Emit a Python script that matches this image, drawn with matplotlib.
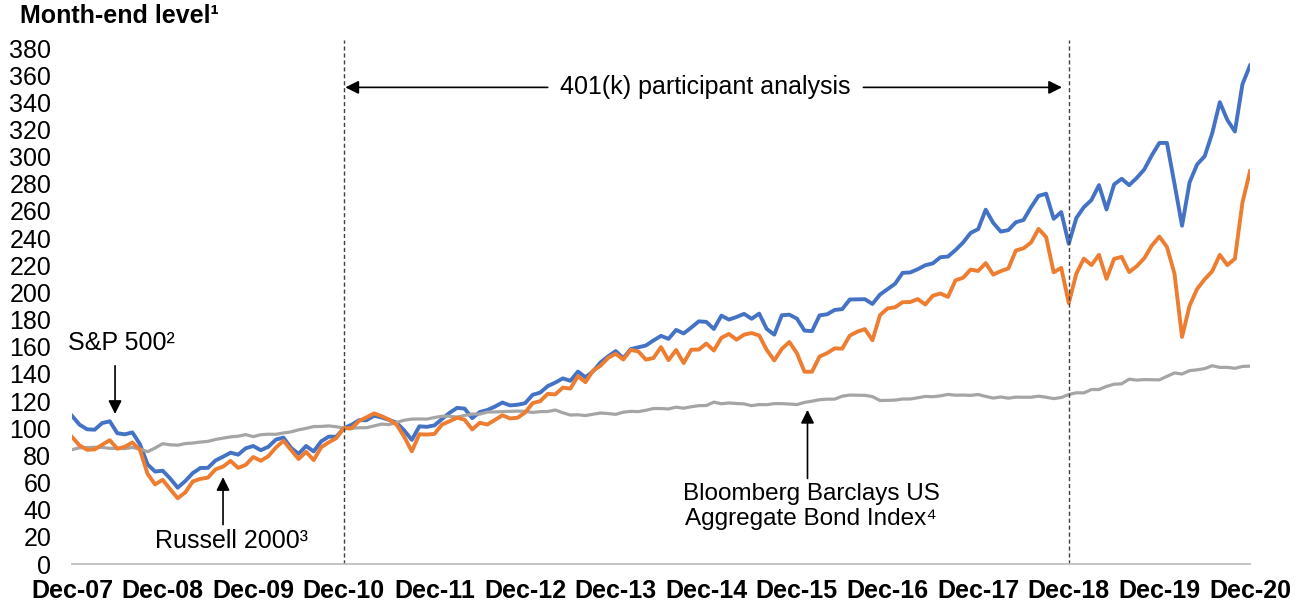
import numpy as np
import matplotlib
matplotlib.use("Agg")
import matplotlib.pyplot as plt

plt.rcParams['font.family'] = ['Liberation Sans', 'DejaVu Sans']

# month-end levels, Dec-07 .. Dec-20 (Dec-10 = 100)
sp500 = [109.1,
         102.6, 99.2, 98.9, 103.8, 105.1, 96.3, 95.5, 96.9, 88.2, 73.4, 68.1, 68.7,
         63.0, 56.2, 61.1, 67.0, 70.7, 70.8, 76.2, 79.0, 82.0, 80.5, 85.2, 86.9,
         83.8, 86.3, 91.6, 93.1, 85.6, 81.1, 86.9, 82.9, 90.3, 93.8, 93.7, 100.0,
         102.5, 105.9, 105.9, 109.2, 107.9, 106.1, 104.0, 98.3, 91.4, 101.4, 101.0, 102.1,
         106.8, 111.3, 115.0, 114.4, 107.4, 111.9, 113.4, 115.9, 118.9, 116.8, 117.3, 118.4,
         124.6, 126.2, 131.0, 133.6, 136.7, 134.9, 141.7, 137.5, 141.9, 148.5, 152.9, 156.8,
         151.5, 158.3, 159.6, 160.9, 164.6, 168.0, 165.8, 172.4, 169.8, 174.1, 178.7, 178.3,
         173.1, 182.9, 180.0, 181.9, 184.2, 180.6, 184.4, 173.1, 168.9, 183.2, 183.6, 180.7,
         171.9, 171.5, 183.1, 183.9, 187.1, 187.7, 194.8, 194.9, 195.0, 191.5, 198.4, 202.4,
         206.4, 214.4, 214.7, 217.1, 220.0, 221.4, 225.9, 226.4, 231.2, 236.7, 243.8, 246.6,
         260.9, 251.2, 244.8, 245.9, 251.7, 253.3, 262.7, 271.1, 272.7, 254.2, 259.2, 235.8,
         254.8, 262.8, 268.0, 279.0, 261.1, 279.5, 283.7, 279.0, 284.3, 290.6, 301.0, 310.1,
         310.1, 280.0, 249.1, 281.1, 294.3, 300.3, 317.3, 340.1, 327.0, 318.5, 353.3, 367.1]

russell = [93.6,
           87.3, 84.1, 84.4, 87.8, 91.2, 84.9, 86.3, 89.5, 84.0, 66.5, 58.6, 62.0,
           55.1, 48.4, 52.7, 60.8, 62.7, 63.6, 69.7, 71.7, 75.9, 70.8, 73.0, 78.8,
           76.0, 79.4, 85.8, 90.7, 84.0, 77.3, 82.6, 76.5, 86.0, 89.6, 92.7, 100.0,
           99.8, 105.3, 108.0, 110.9, 108.9, 106.3, 102.5, 93.6, 83.0, 95.6, 95.3, 95.8,
           102.7, 105.1, 107.8, 106.2, 99.1, 104.0, 102.7, 106.1, 109.5, 107.2, 107.7, 111.5,
           118.5, 119.9, 125.3, 124.9, 129.9, 129.2, 138.3, 133.9, 142.4, 146.0, 151.8, 154.8,
           150.6, 157.7, 156.5, 150.5, 151.7, 159.7, 150.1, 157.6, 148.0, 157.8, 157.9, 162.3,
           157.2, 166.6, 169.4, 165.2, 168.9, 170.1, 168.3, 157.7, 149.9, 158.4, 163.5, 155.2,
           141.6, 141.6, 152.8, 155.3, 158.8, 158.6, 168.2, 171.1, 173.0, 164.8, 183.2, 188.2,
           189.1, 192.8, 192.9, 195.1, 191.1, 197.6, 199.2, 196.7, 208.9, 210.8, 216.8, 215.8,
           221.6, 213.1, 215.7, 217.7, 230.9, 232.5, 236.7, 246.8, 240.8, 214.8, 218.1, 192.1,
           213.8, 224.9, 220.1, 227.7, 210.0, 224.7, 226.2, 215.0, 219.3, 225.2, 234.5, 241.1,
           233.5, 213.8, 167.2, 190.2, 202.6, 209.7, 215.6, 227.7, 220.1, 224.8, 266.2, 289.2]

agg = [84.2,
       85.6, 85.7, 86.0, 85.8, 85.2, 85.1, 85.0, 85.8, 84.7, 82.7, 85.4, 88.6,
       87.8, 87.5, 88.7, 89.1, 89.8, 90.3, 91.7, 92.7, 93.6, 94.1, 95.3, 93.8,
       95.2, 95.6, 95.5, 96.5, 97.3, 98.8, 99.9, 101.2, 101.3, 101.7, 101.1, 100.0,
       100.1, 100.3, 100.4, 101.7, 103.0, 102.7, 104.3, 105.9, 106.7, 106.8, 106.7, 107.9,
       108.8, 108.8, 108.2, 109.4, 110.4, 110.4, 111.9, 112.0, 112.2, 112.4, 112.6, 112.4,
       111.6, 112.2, 112.3, 113.4, 111.4, 109.7, 109.9, 109.3, 110.3, 111.2, 110.8, 110.2,
       111.8, 112.4, 112.2, 113.2, 114.5, 114.5, 114.2, 115.5, 114.7, 115.8, 116.6, 116.7,
       119.2, 118.0, 118.6, 118.2, 117.9, 116.6, 117.4, 117.3, 118.1, 118.1, 117.8, 117.4,
       119.0, 119.9, 121.0, 121.4, 121.4, 123.6, 124.4, 124.3, 124.2, 123.3, 120.4, 120.5,
       120.7, 121.5, 121.5, 122.4, 123.4, 123.2, 123.8, 124.9, 124.3, 124.4, 124.2, 124.8,
       123.4, 122.2, 123.0, 122.1, 122.9, 122.8, 122.8, 123.6, 122.8, 121.8, 122.6, 124.8,
       126.1, 126.0, 128.5, 128.5, 130.8, 132.4, 132.7, 136.1, 135.4, 135.8, 135.7, 135.6,
       138.2, 140.7, 139.9, 142.4, 143.0, 143.9, 146.0, 144.8, 144.8, 144.1, 145.5, 145.7]

year_labels = ['Dec-07', 'Dec-08', 'Dec-09', 'Dec-10', 'Dec-11', 'Dec-12', 'Dec-13',
               'Dec-14', 'Dec-15', 'Dec-16', 'Dec-17', 'Dec-18', 'Dec-19', 'Dec-20']
y_ticks = list(range(0, 381, 20))

BLUE = '#4472C4'
ORANGE = '#ED7D31'
GRAY = '#A5A5A5'
FS = 18

fig = plt.figure(figsize=(13.04, 6.09), dpi=100)
ax = fig.add_axes([72 / 1304, 1 - 564 / 609, (1250 - 72) / 1304, 516 / 609])

x = np.arange(len(sp500))
ax.plot(x, sp500, color=BLUE, lw=2.8, solid_joinstyle='round')
ax.plot(x, agg, color=GRAY, lw=2.3, solid_joinstyle='round')
ax.plot(x, russell, color=ORANGE, lw=2.8, solid_joinstyle='round')

ax.set_xlim(0, len(sp500) - 1)
ax.set_ylim(0, 380)
ax.set_xticks(np.arange(len(year_labels)) * 12)
ax.set_xticklabels(year_labels, fontsize=FS, fontweight='bold')
ax.set_yticks(y_ticks)
ax.set_yticklabels([str(v) for v in y_ticks], fontsize=FS)
ax.tick_params(axis='both', length=0)
ax.tick_params(axis='x', pad=11)
ax.tick_params(axis='y', pad=15)

for s in ['top', 'right', 'left']:
    ax.spines[s].set_visible(False)
ax.spines['bottom'].set_color('#BFBFBF')
ax.spines['bottom'].set_linewidth(1.3)

# analysis window
start = year_labels.index('Dec-10') * 12
end = year_labels.index('Dec-18') * 12
for m in (start, end):
    ax.axvline(m, ymin=0, ymax=386 / 380, color='#404040', lw=1.0,
               ls=(0, (3, 2)), clip_on=False)

arrow = dict(arrowstyle='-|>', color='black', lw=1.2, mutation_scale=20,
             shrinkA=0, shrinkB=0)
ax.text(83.8, 351, '401(k) participant analysis', fontsize=FS,
        ha='center', va='center')
ax.annotate('', xy=(start + 0.2, 351), xytext=(63.0, 351), arrowprops=arrow)
ax.annotate('', xy=(end - 0.9, 351), xytext=(104.8, 351), arrowprops=arrow)

# series labels
ax.text(6.6, 163, 'S&P 500\u00b2', fontsize=FS, ha='center', va='center')
ax.annotate('', xy=(5.7, 110.5), xytext=(5.7, 146), arrowprops=arrow)

ax.text(21.1, 17, 'Russell 2000\u00b3', fontsize=FS, ha='center', va='center')
ax.annotate('', xy=(20.0, 64), xytext=(20.0, 29), arrowprops=arrow)

ax.text(97.9, 42.5, 'Bloomberg Barclays US\nAggregate Bond Index\u2074',
        fontsize=FS - 0.5, ha='center', va='center', linespacing=1.15)
ax.annotate('', xy=(97.4, 113.5), xytext=(97.4, 63), arrowprops=arrow)

fig.text(20 / 1304, 1 - 16 / 609, 'Month-end level\u00b9', fontsize=FS,
         fontweight='bold', ha='left', va='center')

fig.savefig('out.png', dpi=100)
